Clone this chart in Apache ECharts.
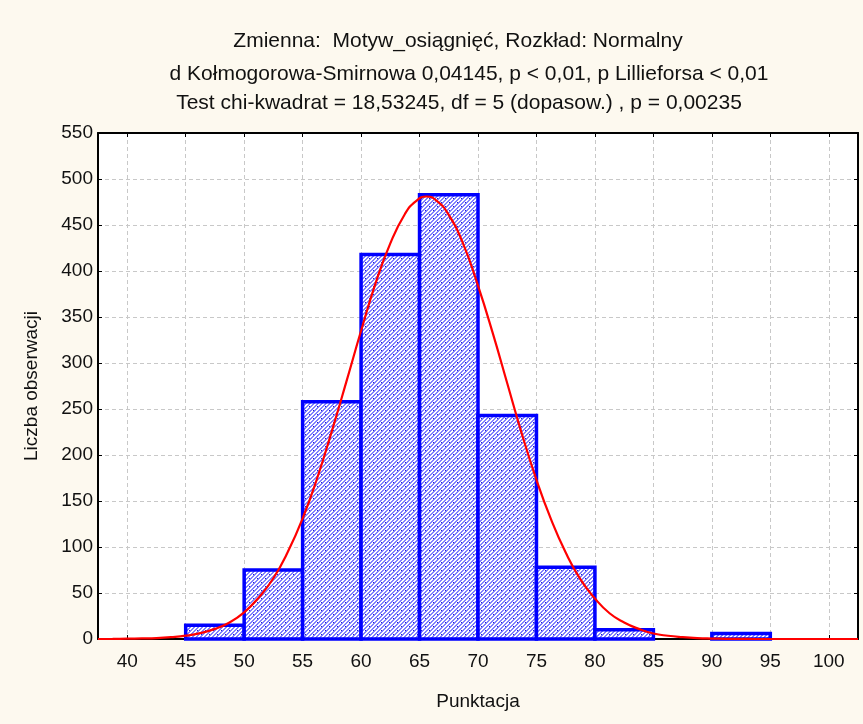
<!DOCTYPE html>
<html>
<head>
<meta charset="utf-8">
<script src="https://cdn.jsdelivr.net/npm/echarts@6/dist/echarts.min.js"></script>
<style>
  html, body { margin: 0; padding: 0; background: #fdf9ef; }
  #chart { width: 863px; height: 724px; }
</style>
</head>
<body>
<div id="chart"></div>
<script>
// histogram bins (lower edge, upper edge) and counts
const binStart = [45, 50, 55, 60, 65, 70, 75, 80, 85, 90]
const binEnd = [50, 55, 60, 65, 70, 75, 80, 85, 90, 95]
const counts = [15, 75, 258, 418, 483, 243, 78, 10, 0, 6]

// fitted normal curve
const curveX = [37.5, 38.75, 40, 41.25, 42.5, 43.75, 45, 46.25, 47.5, 48.75, 50, 51.25, 52.5, 53.75, 55, 56.25, 57.5, 58.75, 60, 61.25, 62.5, 63.75, 64.7, 65.6, 66.5, 67.5, 68.75, 70, 71.25, 72.5, 73.75, 75, 76.25, 77.5, 78.75, 80, 81.25, 82.5, 83.75, 85, 86.25, 87.5, 88.75, 90, 91.25, 92.5, 93.75, 95, 96.25, 97.5, 98.75, 100, 101.25, 102.5]
const curveY = [0, 0.1, 0.3, 0.6, 1, 2, 3.6, 6.4, 11, 18, 29, 45, 66, 95, 131, 175, 226, 280, 335, 387, 430, 462, 476, 481, 476, 461, 429, 384, 333, 278, 223, 173, 130, 94, 65, 44, 28, 18, 11, 6, 3.5, 2, 1, 0.5, 0.2, 0.1, 0, 0, 0, 0, 0, 0, 0, 0]

const xTicks = [40, 45, 50, 55, 60, 65, 70, 75, 80, 85, 90, 95, 100]

const titleLines = [
  'Zmienna:  Motyw_osiągnięć, Rozkład: Normalny',
  'd Kołmogorowa-Smirnowa 0,04145, p < 0,01, p Lillieforsa < 0,01',
  'Test chi-kwadrat = 18,53245, df = 5 (dopasow.) , p = 0,00235'
]

function makePattern () {
  let c = document.createElement('canvas')
  c.width = 8
  c.height = 8
  let ctx = c.getContext('2d')
  ctx.fillStyle = '#ffffff'
  ctx.fillRect(0, 0, 8, 8)
  ctx.fillStyle = '#8080ff'
  for (let y = 0; y < 8; y++) {
    for (let x = 0; x < 8; x++) {
      if ((x + y) % 4 < 2) ctx.fillRect(x, y, 1, 1)
    }
  }
  ctx.fillStyle = '#2020c8'
  ctx.fillRect(1, 2, 1, 1)
  ctx.fillRect(5, 6, 1, 1)
  return c
}

const bars = binStart.map((s, i) => [s, binEnd[i], counts[i]])
const curve = curveX.map((x, i) => [x, curveY[i]])
const pattern = makePattern()

const font = 'Liberation Sans, Arial, sans-serif'

const myChart = echarts.init(document.getElementById('chart'))

const titleTops = [26, 59, 88]
const titleCenters = [453, 464, 454]

let opt = {
  backgroundColor: '#fdf9ef',
  animation: false,
  title: titleLines.map((t, i) => ({
    text: t,
    left: titleCenters[i],
    top: titleTops[i],
    textAlign: 'center',
    textStyle: {
      fontFamily: font,
      fontSize: 21,
      fontWeight: 'normal',
      color: '#111'
    }
  })),
  grid: {
    left: 98,
    right: 5,
    top: 133,
    bottom: 85,
    show: true,
    backgroundColor: '#ffffff',
    borderWidth: 0
  },
  xAxis: [
    {
      type: 'value',
      min: 37.5,
      max: 102.5,
      name: 'Punktacja',
      nameLocation: 'middle',
      nameGap: 53,
      nameTextStyle: { fontFamily: font, fontSize: 19, color: '#111' },
      axisLine: { onZero: false, lineStyle: { color: '#000', width: 2 } },
      axisTick: { inside: true, length: 4, customValues: xTicks, lineStyle: { color: '#000' } },
      axisLabel: { customValues: xTicks, margin: 13, fontFamily: font, fontSize: 19, color: '#111' },
      splitLine: { show: true, lineStyle: { color: '#c8c8c8', type: [4, 3] } }
    },
    {
      type: 'value',
      position: 'top',
      min: 37.5,
      max: 102.5,
      axisLine: { onZero: false, lineStyle: { color: '#000', width: 2 } },
      axisTick: { inside: true, length: 4, customValues: xTicks, lineStyle: { color: '#000' } },
      axisLabel: { show: false },
      splitLine: { show: false }
    }
  ],
  yAxis: [
    {
      type: 'value',
      min: 0,
      max: 550,
      interval: 50,
      name: 'Liczba obserwacji',
      nameLocation: 'middle',
      nameGap: 57,
      nameTextStyle: { fontFamily: font, fontSize: 19, color: '#111' },
      axisLine: { show: true, onZero: false, lineStyle: { color: '#000', width: 2 } },
      axisTick: { show: true, inside: true, length: 4, lineStyle: { color: '#000' } },
      axisLabel: { margin: 5, fontFamily: font, fontSize: 19, color: '#111' },
      splitLine: { show: true, lineStyle: { color: '#c8c8c8', type: [4, 3] } }
    },
    {
      type: 'value',
      position: 'right',
      min: 0,
      max: 550,
      interval: 50,
      axisLine: { show: true, onZero: false, lineStyle: { color: '#000', width: 2 } },
      axisTick: { show: true, inside: true, length: 4, lineStyle: { color: '#000' } },
      axisLabel: { show: false },
      splitLine: { show: false }
    }
  ],
  series: [
    {
      type: 'custom',
      xAxisIndex: 0,
      yAxisIndex: 0,
      data: bars,
      encode: { x: [0, 1], y: 2 },
      renderItem (params, api) {
        if (api.value(2) <= 0) return
        let p1 = api.coord([api.value(0), api.value(2)])
        let p2 = api.coord([api.value(1), 0])
        return {
          type: 'rect',
          shape: { x: p1[0], y: p1[1], width: p2[0] - p1[0], height: p2[1] - p1[1] },
          style: {
            fill: { image: pattern, repeat: 'repeat' },
            stroke: '#0000ff',
            lineWidth: 3.5
          }
        }
      },
      z: 3
    },
    {
      type: 'line',
      data: curve,
      smooth: 0.5,
      showSymbol: false,
      lineStyle: { color: '#ff0000', width: 2.2 },
      z: 4
    }
  ]
}

myChart.setOption(opt)
</script>
</body>
</html>
